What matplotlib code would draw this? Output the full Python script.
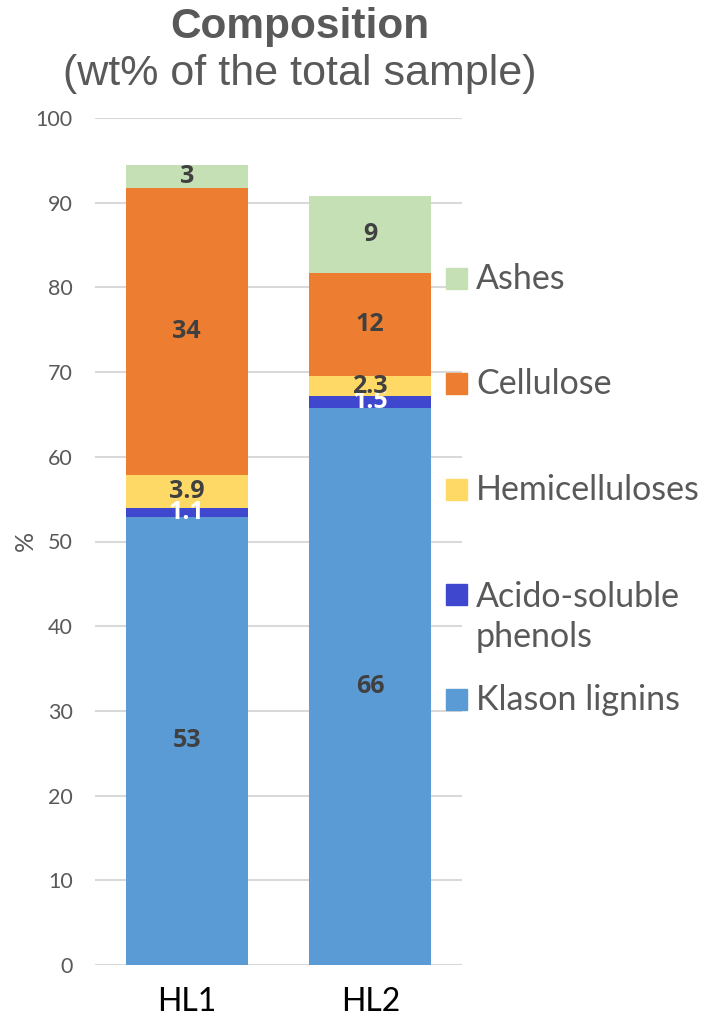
import numpy as np
import matplotlib.pyplot as plt
from matplotlib.patches import Rectangle

samples = ["HL1", "HL2"]

# bottom to top
components = ["Klason lignins", "Acido-soluble\nphenols", "Hemicelluloses", "Cellulose", "Ashes"]
klason = [52.9, 65.8]
acido = [1.1, 1.4]
hemi = [3.9, 2.3]
cellulose = [33.8, 12.2]
ashes = [2.8, 9.1]
series = [klason, acido, hemi, cellulose, ashes]

# labels as shown on the chart
klason_lbl = ["53", "66"]
acido_lbl = ["1.1", "1.5"]
hemi_lbl = ["3.9", "2.3"]
cellulose_lbl = ["34", "12"]
ashes_lbl = ["3", "9"]
labels = [klason_lbl, acido_lbl, hemi_lbl, cellulose_lbl, ashes_lbl]

colors = ["#5B9BD5", "#3F47CF", "#FFD966", "#ED7D31", "#C5E0B4"]
label_colors = ["#404040", "white", "#404040", "#404040", "#404040"]

W, H = 706, 1018
fig = plt.figure(figsize=(W / 100, H / 100), dpi=100)
ax = fig.add_axes([95 / W, 1 - 965 / H, (462 - 95) / W, (965 - 118) / H])

x = np.arange(len(samples))
bottom = np.zeros(len(samples))
for vals, lbls, col, lcol in zip(series, labels, colors, label_colors):
    bars = ax.bar(x, vals, 0.665, bottom=bottom, color=col, zorder=2)
    ax.bar_label(bars, labels=lbls, label_type="center", color=lcol,
                 fontsize=18, fontweight="bold", family="Open Sans")
    bottom += np.array(vals)

ax.set_xlim(-0.5, 1.5)
ax.set_ylim(0, 100)
ax.set_yticks(np.arange(0, 101, 10))
ax.yaxis.grid(True, color="#D9D9D9", lw=1.5, zorder=0)
ax.set_axisbelow(True)
for s in ax.spines.values():
    s.set_visible(False)
ax.tick_params(axis="both", length=0)
ax.tick_params(axis="y", labelsize=15.5, labelcolor="#595959", pad=16)
ax.tick_params(axis="x", labelsize=23, labelcolor="black", pad=16)
ax.set_xticks(x)
ax.set_xticklabels(samples, family="Lato")
for t in ax.get_yticklabels():
    t.set_family("Lato")
ax.set_ylabel("%", fontsize=18, color="#595959", family="Lato", va="center")
ax.yaxis.set_label_coords(-(95 - 25) / (462 - 95), (965 - 541) / (965 - 118))

fig.text(300 / W, 1 - 27 / H, "Composition", ha="center", va="center",
         fontsize=30.5, fontweight="bold", color="#595959", family="Liberation Sans")
fig.text(300 / W, 1 - 74 / H, "(wt% of the total sample)", ha="center", va="center",
         fontsize=31, color="#595959", family="Liberation Sans")

# legend, drawn by hand to match the spacing
leg_y = [700, 617, 490, 384, 279]
box_y = [700, 595, 490, 384, 279]
for name, col, y, by in zip(components, colors, leg_y, box_y):
    fig.patches.append(Rectangle((446 / W, 1 - (by + 10) / H), 21 / W, 21 / H,
                                 transform=fig.transFigure, color=col, figure=fig))
    fig.text(476 / W, 1 - y / H, name, ha="left", va="center",
             fontsize=24.5, color="#595959", family="Lato", linespacing=1.3)

fig.savefig("out.png", dpi=100)
